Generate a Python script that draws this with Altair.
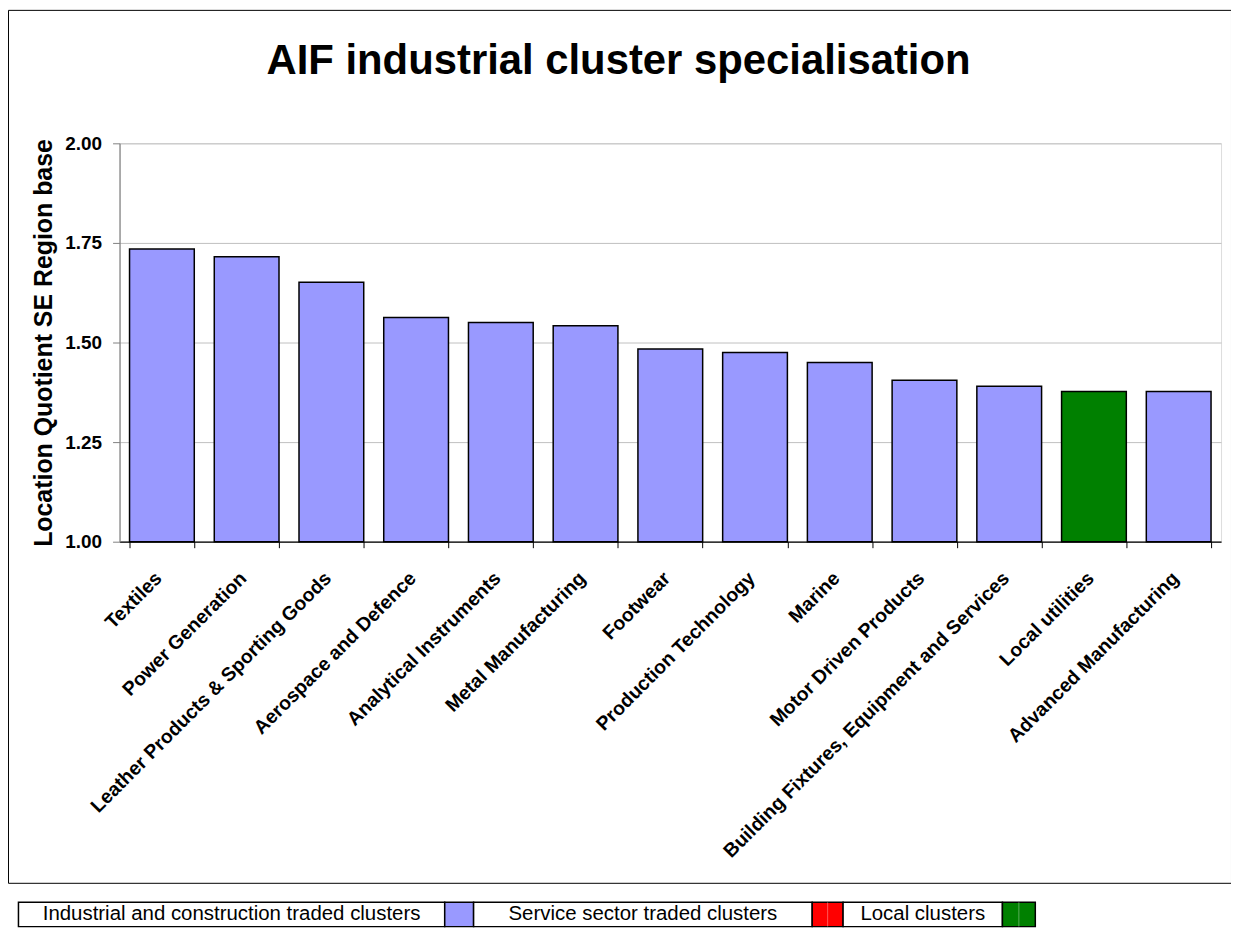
import altair as alt
import pandas as pd

# ---------------- data ----------------
categories = [
    "Textiles", "Power Generation", "Leather Products & Sporting Goods",
    "Aerospace and Defence", "Analytical Instruments", "Metal Manufacturing",
    "Footwear", "Production Technology", "Marine", "Motor Driven Products",
    "Building Fixtures, Equipment and Services", "Local utilities",
    "Advanced Manufacturing",
]
values = [1.735, 1.715, 1.651, 1.563, 1.550, 1.542, 1.484, 1.475, 1.450,
          1.405, 1.390, 1.377, 1.377]
groups = (["Industrial and construction traded clusters"] * 11
          + ["Local clusters"]
          + ["Industrial and construction traded clusters"])

legend_labels = ["Industrial and construction traded clusters",
                 "Service sector traded clusters", "Local clusters"]
legend_colors = ["#9999FF", "#FF0000", "#008000"]

title_text = "AIF industrial cluster specialisation"
y_title = "Location Quotient SE Region base"
y_ticks = [1.0, 1.25, 1.5, 1.75, 2.0]

# ---------------- layout (page pixels) ----------------
FONT = "Liberation Sans"
PX, PY = 120, 142          # plot origin on the page
W, H = 1106, 400           # plot area
TOTAL_H = 921
frame_box = (8.5, 8.5, 1236.5, 885.0)
legend_row = (904.0, 928.5)
legend_cells = [(18.5, 446.5), (446.5, 475.5), (475.5, 815.5),
                (815.5, 846.5), (846.5, 1006.5), (1006.5, 1039.5)]

df = pd.DataFrame({"cat": categories, "val": values, "grp": groups})

color_scale = alt.Scale(domain=legend_labels, range=legend_colors)

bars = alt.Chart(df).mark_bar(stroke="#000000", strokeWidth=1.5).encode(
    x=alt.X("cat:N", sort=categories, title=None,
            scale=alt.Scale(paddingInner=0.236, paddingOuter=0.118),
            axis=alt.Axis(labelAngle=-45, labelAlign="right",
                          labelBaseline="top", labelFont=FONT,
                          labelFontSize=19.5, labelFontWeight="bold",
                          labelColor="#000000", labelPadding=21,
                          labelOffset=-10, labelLimit=700,
                          tickBand="extent", tickSize=6,
                          tickColor="#000000", domainColor="#000000",
                          domainWidth=1.2, grid=False)),
    y=alt.Y("val:Q", title=y_title,
            scale=alt.Scale(domain=[1.0, 2.0], zero=False, nice=False),
            axis=alt.Axis(values=y_ticks, format=".2f", labelFont=FONT,
                          labelFontSize=19, labelFontWeight="bold",
                          labelColor="#000000", labelPadding=11,
                          tickSize=7, tickColor="#808080",
                          domainColor="#808080", domainWidth=1.2,
                          gridColor="#C0C0C0", gridWidth=1,
                          titleFont=FONT, titleFontSize=25,
                          titleFontWeight="bold", titleColor="#000000",
                          titlePadding=8)),
    y2=alt.datum(1.0),
    color=alt.Color("grp:N", scale=color_scale, legend=None),
)

# outer chart frame
frame_df = pd.DataFrame({
    "x0": [frame_box[0] - PX], "x1": [frame_box[2] - PX],
    "y0": [frame_box[1] - PY], "y1": [frame_box[3] - PY],
})
frame = alt.Chart(frame_df).mark_rect(
    fillOpacity=0, stroke="#000000", strokeWidth=1
).encode(
    x=alt.X("x0:Q", scale=None, axis=None), x2="x1",
    y=alt.Y("y0:Q", scale=None, axis=None), y2="y1",
)

# title
title_df = pd.DataFrame({"t": [title_text], "x": [621 - PX], "y": [72 - PY]})
title = alt.Chart(title_df).mark_text(
    font=FONT, fontSize=42, fontWeight="bold", color="#000000",
    align="center", baseline="alphabetic"
).encode(
    x=alt.X("x:Q", scale=None, axis=None),
    y=alt.Y("y:Q", scale=None, axis=None),
    text="t:N",
)

# legend table below the frame
rows = []
for i, lab in enumerate(legend_labels):
    tx0, tx1 = legend_cells[2 * i]
    sx0, sx1 = legend_cells[2 * i + 1]
    rows.append({"kind": "text", "label": lab, "fill": "#FFFFFF",
                 "x0": tx0 - PX, "x1": tx1 - PX})
    rows.append({"kind": "swatch", "label": "", "fill": legend_colors[i],
                 "x0": sx0 - PX, "x1": sx1 - PX})
leg_df = pd.DataFrame(rows)
leg_df["y0"] = legend_row[0] - PY
leg_df["y1"] = legend_row[1] - PY
leg_df["xc"] = (leg_df["x0"] + leg_df["x1"]) / 2
leg_df["yc"] = (leg_df["y0"] + leg_df["y1"]) / 2

leg_boxes = alt.Chart(leg_df).mark_rect(stroke="#000000", strokeWidth=1.5).encode(
    x=alt.X("x0:Q", scale=None, axis=None), x2="x1",
    y=alt.Y("y0:Q", scale=None, axis=None), y2="y1",
    fill=alt.Fill("fill:N", scale=None),
)
# faint split line seen inside the red and green keys
split_df = leg_df[(leg_df["kind"] == "swatch") & (leg_df["fill"] != legend_colors[0])]
leg_split = alt.Chart(split_df).mark_rule(
    color="#FFFFFF", strokeOpacity=0.35, strokeWidth=1
).encode(
    x=alt.X("xc:Q", scale=None, axis=None),
    y=alt.Y("y0:Q", scale=None, axis=None), y2="y1",
)
leg_text = alt.Chart(leg_df[leg_df["kind"] == "text"]).mark_text(
    font=FONT, fontSize=20.5, color="#000000", align="center", baseline="middle"
).encode(
    x=alt.X("xc:Q", scale=None, axis=None),
    y=alt.Y("yc:Q", scale=None, axis=None),
    text="label:N",
)

chart = alt.layer(frame, title, bars, leg_boxes, leg_split, leg_text).resolve_scale(
    x="independent", y="independent", color="independent"
).properties(
    width=W, height=H,
    autosize=alt.AutoSizeParams(type="none"),
    padding={"left": PX - 8, "top": PY - 8, "right": 10,
             "bottom": TOTAL_H - (PY - 8) - H},
).configure_view(stroke=None).configure(background="#FFFFFF")

chart.save("out.html", embed_options={"renderer": "svg", "actions": False})
